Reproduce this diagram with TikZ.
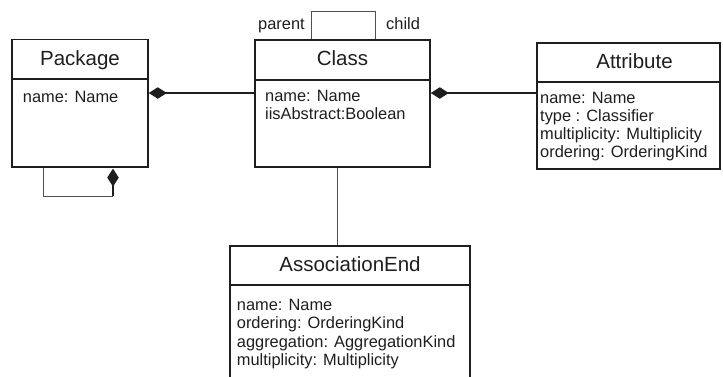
\documentclass[tikz,border=0pt]{standalone}
\usepackage{fontspec}
\setmainfont{Liberation Sans}
\usetikzlibrary{arrows.meta}
\definecolor{ink}{HTML}{1E1E1E}
\definecolor{wire}{HTML}{505050}
\begin{document}
\begin{tikzpicture}[x=1pt,y=-1pt,
  classbox/.style={draw=ink, line width=1.6pt, rectangle, inner sep=0pt},
  divider/.style={draw=ink, line width=1.4pt},
  title/.style={anchor=base, inner sep=0pt, text=ink, font=\fontsize{20.5}{24}\selectfont},
  attr/.style={anchor=base west, inner sep=0pt, text=ink, font=\fontsize{16.4}{18.3}\selectfont},
  rolelabel/.style={anchor=base west, inner sep=0pt, text=ink, font=\fontsize{16.4}{18.3}\selectfont},
  composition/.style={draw=ink, line width=1.6pt, {Diamond[length=18pt,width=11.5pt]}-},
  thinwire/.style={draw=wire, line width=1pt}]
\useasboundingbox (0,0) rectangle (723,376);

% class boxes
\node[classbox, minimum width=136pt, minimum height=127.5pt] (pkg)   at (80,103.25) {};
\node[classbox, minimum width=175pt, minimum height=127pt]   (cls)   at (342.5,103.5) {};
\node[classbox, minimum width=183pt, minimum height=126pt]   (attrb) at (628.5,106) {};
\node[classbox, minimum width=240pt, minimum height=134pt]   (assoc) at (350,313) {};

% compartment separators
\draw[divider] (pkg.west |- 0,79)   -- (pkg.east |- 0,79);
\draw[divider] (cls.west |- 0,80)   -- (cls.east |- 0,80);
\draw[divider] (attrb.west |- 0,82) -- (attrb.east |- 0,82);
\draw[divider] (assoc.west |- 0,285) -- (assoc.east |- 0,285);

% class names
\node[title] (pkgname)   at (80,65.7)    {Package};
\node[title] (clsname)   at (342.5,65.7) {Class};
\node[title] (attrname)  at (634.5,68.3) {Attribute};
\node[title] (assocname) at (350,271.7)  {AssociationEnd};

% attributes
\node[attr] (pkg-1) at (22.7,102) {name: Name};

\node[attr] (cls-1) at (265,101.7) {name: Name};
\node[attr] (cls-2) at (265,119.8) {iisAbstract:Boolean};

\node[attr] (attrb-1) at (540,103.2) {name: Name};
\node[attr] (attrb-2) at (540,121.3) {type : Classifier};
\node[attr] (attrb-3) at (540,139.4) {multiplicity: Multiplicity};
\node[attr] (attrb-4) at (540,157.5) {ordering: OrderingKind};

\node[attr] (assoc-1) at (236.7,310.6) {name: Name};
\node[attr] (assoc-2) at (236.7,328.8) {ordering: OrderingKind};
\node[attr] (assoc-3) at (236.7,347.0) {aggregation: AggregationKind};
\node[attr] (assoc-4) at (236.7,365.2) {multiplicity: Multiplicity};

% compositions
\draw[composition] (pkg.east |- 0,93) -- (cls.west |- 0,93);
\draw[composition] (cls.east |- 0,93) -- (attrb.west |- 0,93);

% Package owns nested packages
\coordinate (pkgloop) at (113,196);
\draw[thinwire] (pkg.south -| 43,0) |- (pkgloop);
\draw[composition, shorten <=0.8pt] (pkg.south -| 113,0) -- (pkgloop);

% Class generalization self-association
\coordinate (clsloop) at (311,11);
\draw[thinwire] (cls.north -| 311,0) -- (clsloop) -| (cls.north -| 375,0);
\node[rolelabel] (parentlbl) at (258,29.8) {parent};
\node[rolelabel] (childlbl)  at (386,29.8) {child};

% Class to AssociationEnd
\draw[thinwire] (cls.south -| 337,0) -- (assoc.north -| 337,0);
\end{tikzpicture}
\end{document}
